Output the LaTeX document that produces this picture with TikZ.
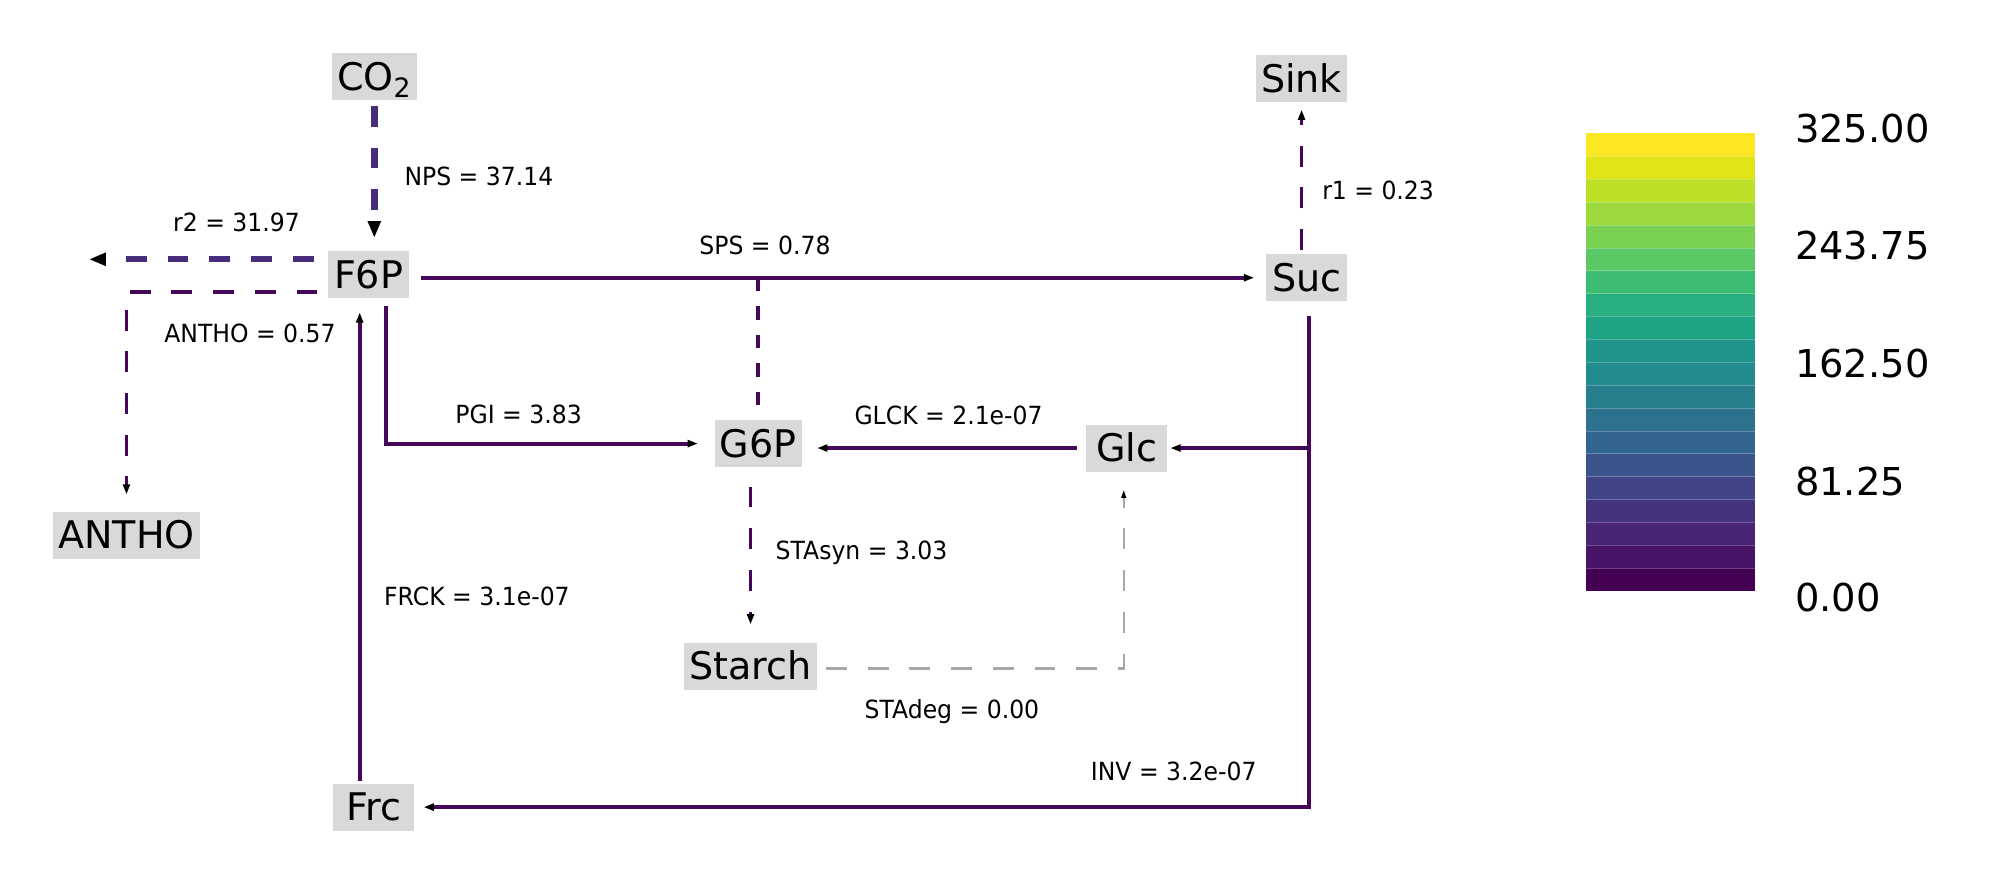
\documentclass[tikz,border=0pt]{standalone}
\usepackage{fontspec}
\setmainfont{DejaVu Sans}
\newfontfamily\ratefont[FakeStretch=0.94]{DejaVu Sans}
\usepackage{tikz}
\usetikzlibrary{arrows.meta, positioning}
\definecolor{fluxlow}{HTML}{45075A}
\definecolor{fluxmid}{HTML}{472D7B}
\definecolor{fluxnil}{HTML}{A8A8A8}
\definecolor{metgray}{HTML}{D9D9D9}

\begin{document}
\begin{tikzpicture}[x=0.025cm, y=-0.025cm,
    met/.style={fill=metgray, inner xsep=0.1cm, inner ysep=0pt, minimum width=1.6cm, minimum height=0.925cm,
        text height=15.5pt, text depth=0pt, font=\fontsize{21.3}{22}\selectfont},
    rate/.style={anchor=west, inner sep=0pt, text height=10.2pt, text depth=0pt,
        font=\ratefont\fontsize{14}{15}\selectfont},
    tick/.style={anchor=west, inner sep=0pt, text height=15.7pt, text depth=0pt,
        font=\fontsize{21.5}{22}\selectfont},
    flow/.style={fluxlow, line width=0.075cm, -{Triangle[length=0.2cm, width=0.135cm, color=black]}},
    flowdash/.style={flow, dash pattern=on 0.41cm off 0.41cm},
    moddash/.style={fluxlow, line width=0.075cm, dash pattern=on 0.265cm off 0.295cm},
    bigflow/.style={fluxmid, line width=0.125cm, dash pattern=on 0.41cm off 0.41cm,
        -{Triangle[length=0.33cm, width=0.24cm, color=black]}},
    nilflow/.style={fluxnil, line width=0.045cm, dash pattern=on 0.41cm off 0.41cm,
        -{Triangle[length=0.16cm, width=0.09cm, color=black]}}]

\useasboundingbox (0,0) rectangle (1568,696);

\node[met] (CO2) at (294.5,60.5) {CO\textsubscript{2}};
\node[met] (Sink) at (1024,61.5) {Sink};
\node[met] (F6P) at (290,216) {F6P};
\node[met] (Suc) at (1028,218.5) {Suc};
\node[met] (G6P) at (596.5,349) {G6P};
\node[met] (Glc) at (886.5,352.5) {Glc};
\node[met] (ANTHO) at (99.5,421) {ANTHO};
\node[met] (Starch) at (590.5,524) {Starch};
\node[met] (Frc) at (294,635) {Frc};

\coordinate (r2out) at (70,204);

\draw[bigflow, shorten <=0.1cm, shorten >=0.25cm] (CO2.south) -- (CO2.south |- F6P.north);
\draw[bigflow, shorten <=0.275cm] (F6P.west |- r2out) -- (r2out);
\draw[flowdash, shorten <=0.2cm, shorten >=0.33cm] ([yshift=0.125cm]F6P.south west) -| (ANTHO.north);
\draw[flow, shorten <=0.225cm, shorten >=0.225cm] (F6P.east |- Suc.west) -- (Suc.west);
\draw[moddash, shorten >=0.25cm] (G6P.north |- Suc.west) -- (G6P.north);
\draw[flowdash, shorten <=0.075cm, shorten >=0.15cm] (Sink.south |- Suc.north) -- (Sink.south);
\draw[flow, shorten <=0.15cm, shorten >=0.325cm] ([xshift=0.35cm]F6P.south) |- (G6P.west);
\draw[flow, shorten <=0.05cm, shorten >=0.275cm] ([xshift=-0.275cm]Frc.north) -- ([xshift=-0.275cm]Frc.north |- F6P.south);
\draw[flow, shorten <=0.175cm, shorten >=0.3cm] (Glc.west) -- (Glc.west -| G6P.east);
\draw[flow, shorten <=0.275cm, shorten >=0.175cm] ([xshift=0.05cm]Suc.south) |- (Frc.east);
\draw[flow, shorten >=0.05cm] ([xshift=0.05cm]Suc.south |- Glc.east) -- (Glc.east);
\draw[flowdash, shorten <=0.375cm, shorten >=0.35cm] (G6P.south -| Starch.north) -- (Starch.north);
\draw[nilflow, shorten <=0.175cm, shorten >=0.35cm] ([yshift=-0.05cm]Starch.east) -| ([xshift=-0.06cm]Glc.south);

\node[rate] (lNPS) at (318,139) {NPS = 37.14};
\node[rate] (lr2) at (136,175) {r2 = 31.97};
\node[rate] (lANTHO) at (129,262) {ANTHO = 0.57};
\node[rate] (lSPS) at (550,193) {SPS = 0.78};
\node[rate] (lr1) at (1040,150) {r1 = 0.23};
\node[rate] (lPGI) at (358,326) {PGI = 3.83};
\node[rate] (lGLCK) at (672,327) {GLCK = 2.1e-07};
\node[rate] (lSTAsyn) at (610,433) {STAsyn = 3.03};
\node[rate] (lFRCK) at (302,469) {FRCK = 3.1e-07};
\node[rate] (lSTAdeg) at (680,558) {STAdeg = 0.00};
\node[rate] (lINV) at (858,607) {INV = 3.2e-07};

\foreach \c [count=\i from 0] in {440154,481467,482576,46337F,414487,3A548C,32648E,2C728E,277F8E,228B8D,
        1F958B,20A486,29AF7F,3DBC74,5AC864,7AD151,9BD93C,BDDF26,DFE318,FDE725} {
    \definecolor{band}{HTML}{\c}
    \fill[band] (1248,465-18*\i) rectangle (1381,447-18*\i);
}
\foreach \i in {1,...,19}
    \draw[white, opacity=0.25, line width=0.3pt] (1248,465-18*\i) -- (1381,465-18*\i);

\node[tick] (t4) at (1412,101) {325.00};
\node[tick] (t3) at (1412,193) {243.75};
\node[tick] (t2) at (1412,286) {162.50};
\node[tick] (t1) at (1412,379) {81.25};
\node[tick] (t0) at (1412,470) {0.00};

\end{tikzpicture}
\end{document}
